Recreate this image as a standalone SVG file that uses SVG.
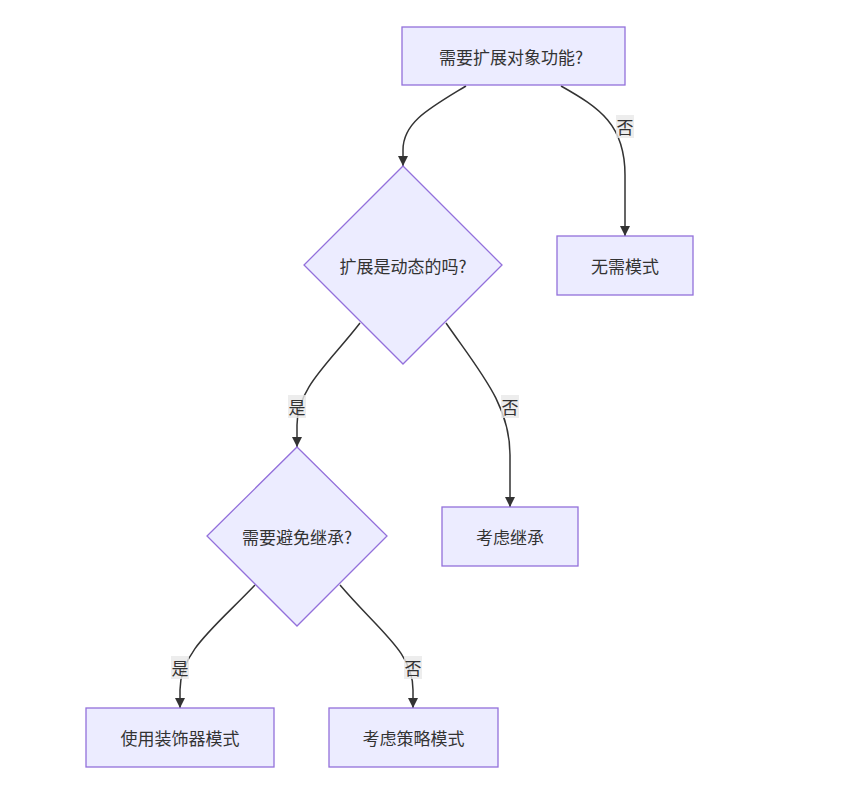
<svg xmlns="http://www.w3.org/2000/svg" width="846" height="795" viewBox="0 0 846 795">
<defs>
<marker id="arr" viewBox="0 0 10 10" refX="10" refY="5" markerWidth="10" markerHeight="10" markerUnits="userSpaceOnUse" orient="auto">
<path d="M0,0 L10,5 L0,10 z" fill="#333"/>
</marker>
</defs>
<style>
.node{fill:#ECECFF;stroke:#9370DB;stroke-width:1.3}
.t{font-family:"Noto Sans CJK SC","Liberation Sans",sans-serif;font-size:17px;fill:#333;text-anchor:middle;dominant-baseline:central}
.e{fill:none;stroke:#333;stroke-width:1.5;marker-end:url(#arr)}
.lb{fill:#e8e8e8;opacity:0.8}
.lt{font-family:"Noto Sans CJK SC","Liberation Sans",sans-serif;font-size:17px;fill:#333;text-anchor:middle;dominant-baseline:central}
</style>
<rect width="846" height="795" fill="#fff"/>
<g id="edges">
<path class="e" d="M466,86 C430,108 403,122 403,150 L403,166"/>
<path class="e" d="M561,86 C600,108 625,125 625,175 L625,236"/>
<path class="e" d="M360,323 C330,362 297,388 297,425 L297,447"/>
<path class="e" d="M446,323 C480,372 510,405 510,455 L510,507"/>
<path class="e" d="M255,585 C215,627 180,652 180,690 L180,708"/>
<path class="e" d="M340,585 C380,632 413,652 413,690 L413,708"/>
</g>
<g id="edge-labels">
<rect class="lb" x="616" y="115" width="18" height="23"/><text class="lt" x="625" y="126.5">否</text>
<rect class="lb" x="288" y="395" width="18" height="23"/><text class="lt" x="297" y="406.5">是</text>
<rect class="lb" x="501" y="395" width="18" height="23"/><text class="lt" x="510" y="406.5">否</text>
<rect class="lb" x="171" y="656" width="18" height="23"/><text class="lt" x="180" y="667.5">是</text>
<rect class="lb" x="404" y="656" width="18" height="23"/><text class="lt" x="413" y="667.5">否</text>
</g>
<g id="A"><rect class="node" x="402" y="27" width="223" height="58"/><text class="t" x="511" y="56">需要扩展对象功能?</text></g>
<g id="B"><polygon class="node" points="403,166 502,265 403,364 304,265"/><text class="t" x="403" y="265">扩展是动态的吗?</text></g>
<g id="C"><rect class="node" x="557" y="236" width="136" height="59"/><text class="t" x="625" y="265.5">无需模式</text></g>
<g id="D"><polygon class="node" points="297,447 387,536 297,626 207,536"/><text class="t" x="297" y="536">需要避免继承?</text></g>
<g id="E"><rect class="node" x="442" y="507" width="136" height="59"/><text class="t" x="510" y="536.5">考虑继承</text></g>
<g id="F"><rect class="node" x="86" y="708" width="188" height="59"/><text class="t" x="180" y="737.5">使用装饰器模式</text></g>
<g id="G"><rect class="node" x="329" y="708" width="169" height="59"/><text class="t" x="413.5" y="737.5">考虑策略模式</text></g>
</svg>
